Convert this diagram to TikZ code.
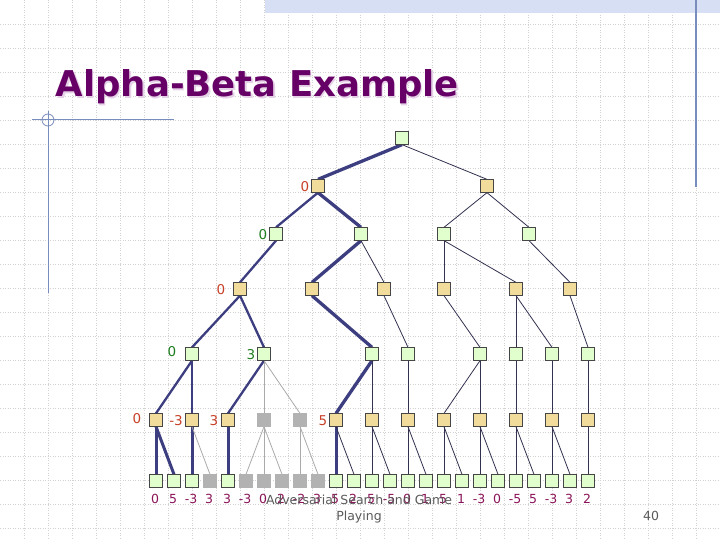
\documentclass[tikz,border=0pt]{standalone}
\usepackage{fontspec}
\setmainfont{DejaVu Sans}
\pgfdeclarelayer{bg}
\pgfsetlayers{bg,main}
\definecolor{tanc}{RGB}{242,220,156}
\definecolor{grnc}{RGB}{224,255,204}
\definecolor{gryc}{RGB}{178,178,178}
\definecolor{bord}{RGB}{70,70,70}
\definecolor{edgec}{RGB}{60,62,128}
\definecolor{thinc}{RGB}{50,50,80}
\definecolor{greyl}{RGB}{170,170,170}
\definecolor{redc}{RGB}{200,64,40}
\definecolor{grnt}{RGB}{30,125,30}
\definecolor{leafc}{RGB}{140,20,90}
\definecolor{titlec}{RGB}{102,0,102}
\definecolor{shadowc}{RGB}{230,210,230}
\definecolor{footc}{RGB}{90,90,90}
\definecolor{gridc}{RGB}{210,210,210}
\definecolor{stripc}{RGB}{214,223,243}
\definecolor{decoc}{RGB}{120,140,190}
\begin{document}
\begin{tikzpicture}[x=1pt,y=-1pt,
  nd/.style={rectangle,minimum size=12.5pt,inner sep=0pt,draw=bord,line width=0.8pt},
  tan/.style={nd,fill=tanc},
  grn/.style={nd,fill=grnc},
  gry/.style={rectangle,minimum size=12.5pt,inner sep=0pt,fill=gryc,draw=gryc,line width=0.8pt},
  eA/.style={draw=edgec,line width=3.3pt},
  eB/.style={draw=edgec,line width=2.3pt},
  eC/.style={draw=edgec,line width=3pt},
  e0/.style={draw=thinc,line width=0.8pt},
  eg/.style={draw=greyl,line width=0.8pt},
  lr/.style={text=redc,font=\fontsize{13.5}{14}\selectfont,inner sep=0pt},
  lg/.style={text=grnt,font=\fontsize{13.5}{14}\selectfont,inner sep=0pt},
  lv/.style={text=leafc,font=\fontsize{12.5}{13}\selectfont,inner sep=0pt,anchor=base},
  ft/.style={text=footc,font=\fontsize{12.5}{13}\selectfont,inner sep=0pt,anchor=base}
]
\useasboundingbox (0,0) rectangle (720,540);
\begin{pgfonlayer}{bg}
\fill[white] (0,0) rectangle (720,540);
\foreach \gx in {24,48,...,696} \draw[gridc,line width=0.8pt,dash pattern=on 1pt off 1.5pt] (\gx,0) -- (\gx,540);
\foreach \gy in {24,48,...,528} \draw[gridc,line width=0.8pt,dash pattern=on 1pt off 1.5pt] (0,\gy) -- (720,\gy);
\fill[stripc] (265,0) rectangle (720,13);
\draw[decoc,line width=1.2pt] (696,0) -- (696,187);
\draw[decoc,line width=1pt] (32,120) -- (174,120);
\draw[decoc,line width=1pt] (48,111) -- (48,293);
\draw[decoc,line width=0.8pt] (48,120) circle (6);
\end{pgfonlayer}

% title
\node[anchor=base west,inner sep=0pt,text=shadowc,font=\fontsize{35.5}{36}\selectfont\bfseries] at (57,98.5) {Alpha-Beta Example};
\node[anchor=base west,inner sep=0pt,text=titlec,font=\fontsize{35.5}{36}\selectfont\bfseries] at (55.5,97) {Alpha-Beta Example};

% tree nodes
\node[grn] (r) at (402,138) {};
\node[tan] (a1) at (318,186) {};
\node[tan] (b1) at (487,186) {};
\node[grn] (a2) at (276,234) {};
\node[grn] (b2) at (361,234) {};
\node[grn] (c2) at (444,234) {};
\node[grn] (d2) at (529,234) {};
\node[tan] (a3) at (240,289) {};
\node[tan] (b3) at (312,289) {};
\node[tan] (c3) at (384,289) {};
\node[tan] (d3) at (444,289) {};
\node[tan] (e3) at (516,289) {};
\node[tan] (f3) at (570,289) {};
\node[grn] (a4) at (192,354) {};
\node[grn] (b4) at (264,354) {};
\node[grn] (c4) at (372,354) {};
\node[grn] (d4) at (408,354) {};
\node[grn] (e4) at (480,354) {};
\node[grn] (f4) at (516,354) {};
\node[grn] (g4) at (552,354) {};
\node[grn] (h4) at (588,354) {};
\node[tan] (a5) at (156,420) {};
\node[tan] (b5) at (192,420) {};
\node[tan] (c5) at (228,420) {};
\node[gry] (d5) at (264,420) {};
\node[gry] (e5) at (300,420) {};
\node[tan] (f5) at (336,420) {};
\node[tan] (g5) at (372,420) {};
\node[tan] (h5) at (408,420) {};
\node[tan] (i5) at (444,420) {};
\node[tan] (j5) at (480,420) {};
\node[tan] (k5) at (516,420) {};
\node[tan] (l5) at (552,420) {};
\node[tan] (m5) at (588,420) {};
% leaves
\node[grn] (t1) at (156,481) {};
\node[grn] (t2) at (174,481) {};
\node[grn] (t3) at (192,481) {};
\node[gry] (t4) at (210,481) {};
\node[grn] (t5) at (228,481) {};
\node[gry] (t6) at (246,481) {};
\node[gry] (t7) at (264,481) {};
\node[gry] (t8) at (282,481) {};
\node[gry] (t9) at (300,481) {};
\node[gry] (t10) at (318,481) {};
\node[grn] (t11) at (336,481) {};
\node[grn] (t12) at (354,481) {};
\node[grn] (t13) at (372,481) {};
\node[grn] (t14) at (390,481) {};
\node[grn] (t15) at (408,481) {};
\node[grn] (t16) at (426,481) {};
\node[grn] (t17) at (444,481) {};
\node[grn] (t18) at (462,481) {};
\node[grn] (t19) at (480,481) {};
\node[grn] (t20) at (498,481) {};
\node[grn] (t21) at (516,481) {};
\node[grn] (t22) at (534,481) {};
\node[grn] (t23) at (552,481) {};
\node[grn] (t24) at (570,481) {};
\node[grn] (t25) at (588,481) {};

% edges
\begin{pgfonlayer}{bg}
\draw[eA] (r.south) -- (a1.north);
\draw[e0] (r.south) -- (b1.north);
\draw[eB] (a1.south) -- (a2.north);
\draw[eA] (a1.south) -- (b2.north);
\draw[e0] (b1.south) -- (c2.north);
\draw[e0] (b1.south) -- (d2.north);
\draw[eB] (a2.south) -- (a3.north);
\draw[eA] (b2.south) -- (b3.north);
\draw[e0] (b2.south) -- (c3.north);
\draw[e0] (c2.south) -- (d3.north);
\draw[e0] (c2.south) -- (e3.north);
\draw[e0] (d2.south) -- (f3.north);
\draw[eB] (a3.south) -- (a4.north);
\draw[eB] (a3.south) -- (b4.north);
\draw[eA] (b3.south) -- (c4.north);
\draw[e0] (c3.south) -- (d4.north);
\draw[e0] (d3.south) -- (e4.north);
\draw[e0] (e3.south) -- (f4.north);
\draw[e0] (e3.south) -- (g4.north);
\draw[e0] (f3.south) -- (h4.north);
\draw[eB] (a4.south) -- (a5.north);
\draw[eB] (a4.south) -- (b5.north);
\draw[eB] (b4.south) -- (c5.north);
\draw[eg] (b4.south) -- (d5.north);
\draw[eg] (b4.south) -- (e5.north);
\draw[eA] (c4.south) -- (f5.north);
\draw[e0] (c4.south) -- (g5.north);
\draw[e0] (d4.south) -- (h5.north);
\draw[e0] (e4.south) -- (i5.north);
\draw[e0] (e4.south) -- (j5.north);
\draw[e0] (f4.south) -- (k5.north);
\draw[e0] (g4.south) -- (l5.north);
\draw[e0] (h4.south) -- (m5.north);
\draw[eC] (a5.south) -- (t1.north);
\draw[eC] (a5.south) -- (t2.north);
\draw[eC] (b5.south) -- (t3.north);
\draw[eg] (b5.south) -- (t4.north);
\draw[eC] (c5.south) -- (t5.north);
\draw[eg] (d5.south) -- (t6.north);
\draw[eg] (d5.south) -- (t7.north);
\draw[eg] (d5.south) -- (t8.north);
\draw[eg] (e5.south) -- (t9.north);
\draw[eg] (e5.south) -- (t10.north);
\draw[eC] (f5.south) -- (t11.north);
\draw[e0] (f5.south) -- (t12.north);
\draw[e0] (g5.south) -- (t13.north);
\draw[e0] (g5.south) -- (t14.north);
\draw[e0] (h5.south) -- (t15.north);
\draw[e0] (h5.south) -- (t16.north);
\draw[e0] (i5.south) -- (t17.north);
\draw[e0] (i5.south) -- (t18.north);
\draw[e0] (j5.south) -- (t19.north);
\draw[e0] (j5.south) -- (t20.north);
\draw[e0] (k5.south) -- (t21.north);
\draw[e0] (k5.south) -- (t22.north);
\draw[e0] (l5.south) -- (t23.north);
\draw[e0] (l5.south) -- (t24.north);
\draw[e0] (m5.south) -- (t25.north);
\end{pgfonlayer}

% node value labels
\node[lr] (va1) at (305,186.5) {0};
\node[lg] (va2) at (263,234.5) {0};
\node[lr] (va3) at (221,289.5) {0};
\node[lg] (va4) at (172,352) {0};
\node[lg] (vb4) at (251,355) {3};
\node[lr] (va5) at (137,419) {0};
\node[lr] (vb5) at (176,420.5) {-3};
\node[lr] (vc5) at (214,420.5) {3};
\node[lr] (vf5) at (323,420.5) {5};

% leaf values
\node[lv] (w1) at (155,503) {0};
\node[lv] (w2) at (173,503) {5};
\node[lv] (w3) at (191,503) {-3};
\node[lv] (w4) at (209,503) {3};
\node[lv] (w5) at (227,503) {3};
\node[lv] (w6) at (245,503) {-3};
\node[lv] (w7) at (263,503) {0};
\node[lv] (w8) at (281,503) {2};
\node[lv] (w9) at (299,503) {-2};
\node[lv] (w10) at (317,503) {3};
\node[lv] (w11) at (335,503) {5};
\node[lv] (w12) at (353,503) {2};
\node[lv] (w13) at (371,503) {5};
\node[lv] (w14) at (389,503) {-5};
\node[lv] (w15) at (407,503) {0};
\node[lv] (w16) at (425,503) {1};
\node[lv] (w17) at (443,503) {5};
\node[lv] (w18) at (461,503) {1};
\node[lv] (w19) at (479,503) {-3};
\node[lv] (w20) at (497,503) {0};
\node[lv] (w21) at (515,503) {-5};
\node[lv] (w22) at (533,503) {5};
\node[lv] (w23) at (551,503) {-3};
\node[lv] (w24) at (569,503) {3};
\node[lv] (w25) at (587,503) {2};

% footer
\node[ft] (f1) at (359,504) {Adversarial Search and Game};
\node[ft] (f2) at (359,520) {Playing};
\node[ft] (pg) at (651,520) {40};
\end{tikzpicture}
\end{document}
